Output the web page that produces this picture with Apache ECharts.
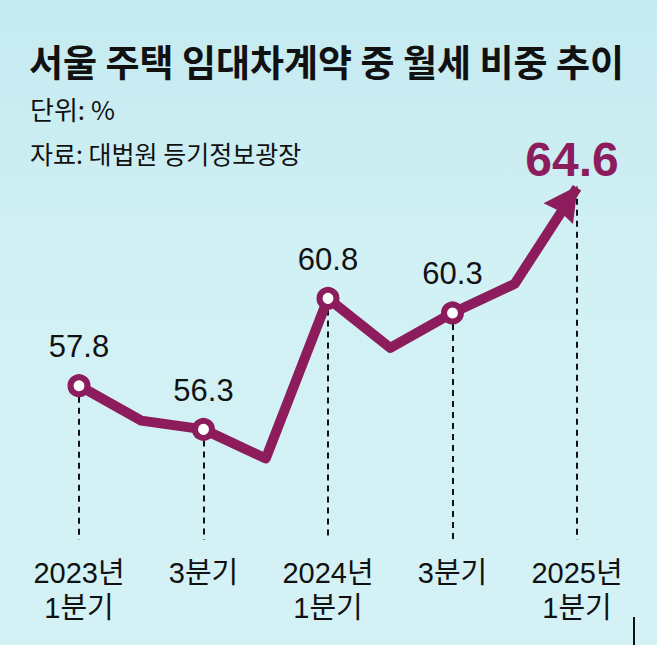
<!DOCTYPE html>
<html>
<head>
<meta charset="utf-8">
<script src="https://cdn.jsdelivr.net/npm/echarts@6/dist/echarts.min.js"></script>
<style>
  html, body { margin: 0; padding: 0; }
  body { background: linear-gradient(180deg, #c4eaf0 0%, #d2f1f5 45%, #d4f2f5 100%); }
</style>
</head>
<body>
<div id="main_chart" style="width:657px;height:645px;"></div>
<script type="text/javascript">
    // 분기별 월세 비중 (%)
    var tickLabels = ['2023년\n1분기', '', '3분기', '', '2024년\n1분기', '', '3분기', '', '2025년\n1분기'];
    var shareValues = [57.8, 56.6, 56.3, 55.3, 60.8, 59.1, 60.3, 61.3, 64.6];
    var markedPoints = [true, false, true, false, true, false, true, false, true];
    // 세로축 범위 (화면에는 표시하지 않음)
    var yMin = 52.5;
    var yMax = 66;

    var lineColor = '#8c1c5c';
    var lastIndex = shareValues.length - 1;

    var seriesData = [];
    var dropLines = [];
    for (var i = 0; i < shareValues.length; i++) {
        var item = { value: shareValues[i] };
        if (i === lastIndex) {
            // 화살표 머리: 끝이 마지막 점에 오도록 회전 후 이동
            item.symbol = 'path://M0,0 L10,17 L0,15.5 L-10,17 Z';
            item.symbolSize = [36, 34];
            item.symbolRotate = -35;
            item.symbolOffset = [-9, 12];
            item.itemStyle = { color: lineColor, borderWidth: 0 };
            item.label = {
                show: true,
                position: 'top',
                distance: 2,
                offset: [4, 10],
                fontSize: 48,
                fontWeight: 'bold',
                color: lineColor,
                fontFamily: 'Liberation Sans, Arial, sans-serif'
            };
        } else if (markedPoints[i]) {
            item.symbol = 'circle';
            item.label = { show: true };
        } else {
            item.symbol = 'none';
        }
        seriesData.push(item);
        if (markedPoints[i]) {
            dropLines.push([{ coord: [i, shareValues[i]] }, { coord: [i, yMin] }]);
        }
    }

    var chart = echarts.init(document.getElementById('main_chart'), null, { renderer: 'svg' });
    var options = {
        backgroundColor: 'transparent',
        animation: false,
        title: [{
            text: '서울 주택 임대차계약 중 월세 비중 추이',
            left: 29, top: 41, padding: 0,
            textStyle: { fontSize: 37, lineHeight: 39, fontWeight: 'bold', color: '#111', fontFamily: 'Noto Sans CJK KR' }
        }, {
            text: '단위: %',
            left: 30, top: 95, padding: 0,
            textStyle: { fontSize: 26, lineHeight: 26, fontWeight: 'normal', color: '#111', fontFamily: 'Noto Sans CJK KR' }
        }, {
            text: '자료: 대법원 등기정보광장',
            left: 30, top: 140, padding: 0,
            textStyle: { fontSize: 25, lineHeight: 25, fontWeight: 'normal', color: '#111', fontFamily: 'Noto Sans CJK KR' }
        }],
        grid: { left: 79, right: 80, top: 147, bottom: 105 },
        xAxis: {
            type: 'category',
            boundaryGap: false,
            data: tickLabels,
            axisLine: { show: false },
            axisTick: { show: false },
            axisLabel: {
                interval: 0,
                margin: 15,
                fontSize: 29,
                lineHeight: 35,
                color: '#111',
                fontFamily: 'Liberation Sans, Noto Sans CJK KR, sans-serif'
            }
        },
        yAxis: {
            type: 'value',
            min: yMin,
            max: yMax,
            show: false
        },
        series: [{
            type: 'line',
            data: seriesData,
            symbolSize: 17,
            lineStyle: { color: lineColor, width: 10, join: 'round' },
            itemStyle: { color: '#fff', borderColor: lineColor, borderWidth: 6 },
            label: {
                show: false,
                position: 'top',
                distance: 12,
                fontSize: 31,
                color: '#111',
                fontFamily: 'Liberation Sans, Arial, sans-serif'
            },
            markLine: {
                silent: true,
                symbol: 'none',
                z: 1,
                label: { show: false },
                lineStyle: { color: '#111', type: [6, 5], width: 2 },
                data: dropLines
            }
        }],
        graphic: [{
            type: 'line',
            shape: { x1: 634, y1: 617, x2: 634, y2: 645 },
            style: { stroke: '#111', lineWidth: 2 }
        }]
    };
    chart.setOption(options);
</script>
</body>
</html>
